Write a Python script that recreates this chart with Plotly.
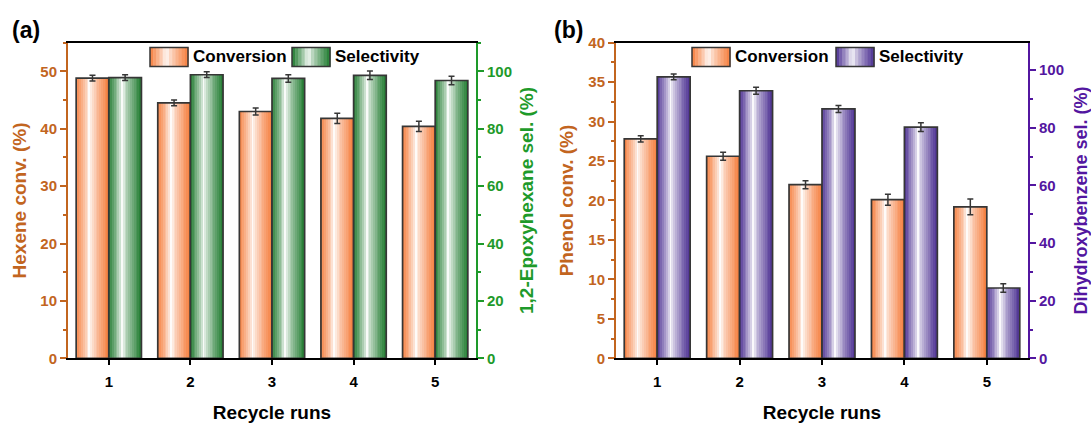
import plotly.graph_objects as go

# ---------------- data ----------------
runs = [1, 2, 3, 4, 5]
run_labels = ["1", "2", "3", "4", "5"]

hexene_conv = [48.8, 44.5, 43.0, 41.8, 40.4]
hexene_conv_err = [0.5, 0.5, 0.6, 0.9, 0.9]
epoxy_sel = [97.8, 98.8, 97.5, 98.6, 96.8]
epoxy_sel_err = [1.0, 1.0, 1.3, 1.5, 1.5]

phenol_conv = [27.8, 25.6, 22.0, 20.1, 19.2]
phenol_conv_err = [0.4, 0.5, 0.5, 0.7, 1.0]
dhb_sel = [97.6, 92.8, 86.5, 80.2, 24.4]
dhb_sel_err = [1.0, 1.2, 1.2, 1.5, 1.5]

# ---------------- styles ----------------
FONT = "Liberation Sans, Arial, sans-serif"
ORANGE_AX = "#C2651F"
GREEN_AX = "#1E9A2A"
PURPLE_AX = "#5316A0"
ORANGE_BAR = (246, 128, 64)
GREEN_BAR = (35, 125, 50)
PURPLE_BAR = (78, 50, 148)
OUTLINE = "#363636"
N_STRIP = 18
BAR_W = 0.4
WHITE_POS = 0.42


def grad_color(rgb, t):
    # mirror gradient: colour at edges, white near WHITE_POS
    if t < WHITE_POS:
        a = (WHITE_POS - t) / WHITE_POS
    else:
        a = (t - WHITE_POS) / (1 - WHITE_POS)
    a = min(1.0, a ** 0.75)
    r = int(255 + (rgb[0] - 255) * a)
    g = int(255 + (rgb[1] - 255) * a)
    b = int(255 + (rgb[2] - 255) * a)
    return f"rgb({r},{g},{b})"


fig = go.Figure()


def add_series(xa, ya, vals, errs, rgb, base_offset):
    sw = BAR_W / N_STRIP
    for i in range(N_STRIP):
        t = (i + 0.5) / N_STRIP
        fig.add_trace(go.Bar(
            x=runs, y=vals, xaxis=xa, yaxis=ya,
            width=sw * 1.08, offset=base_offset + i * sw,
            marker=dict(color=grad_color(rgb, t), line=dict(width=0)),
            showlegend=False, hoverinfo="skip"))
    fig.add_trace(go.Bar(
        x=runs, y=vals, xaxis=xa, yaxis=ya,
        width=BAR_W, offset=base_offset,
        marker=dict(color="rgba(0,0,0,0)", line=dict(color=OUTLINE, width=1.7)),
        error_y=dict(type="data", array=errs, color=OUTLINE, thickness=1.5, width=3),
        showlegend=False))


add_series("x", "y", hexene_conv, hexene_conv_err, ORANGE_BAR, -0.4)
add_series("x", "y2", epoxy_sel, epoxy_sel_err, GREEN_BAR, 0.0)
add_series("x2", "y3", phenol_conv, phenol_conv_err, ORANGE_BAR, -0.4)
add_series("x2", "y4", dhb_sel, dhb_sel_err, PURPLE_BAR, 0.0)

W, H = 1091, 423
dom_a = [68 / W, 476 / W]
dom_b = [616 / W, 1028 / W]
dom_y = [(H - 364) / H, (H - 35) / H]

tickfont = lambda c: dict(family=FONT, size=15, color=c, weight="bold")
titlefont = lambda c: dict(family=FONT, size=19, color=c, weight="bold")


def xaxis_cfg(domain, anchor):
    return dict(domain=domain, anchor=anchor, range=[0.5, 5.5],
                tickvals=runs, ticktext=run_labels,
                showline=True, linecolor="black", linewidth=2, mirror=True,
                ticks="outside", ticklen=5, tickwidth=2, tickcolor="black",
                ticklabelstandoff=4,
                tickfont=tickfont("black"), showgrid=False, zeroline=False,
                title=dict(text="Recycle runs", font=titlefont("black"), standoff=16))


def yaxis_cfg(color, rng, dtick, title, side, anchor, standoff, overlaying=None):
    d = dict(domain=dom_y, anchor=anchor, range=rng, dtick=dtick, side=side,
             showline=True, linecolor=color, linewidth=2,
             ticks="outside", ticklen=6, tickwidth=2, tickcolor=color,
             minor=dict(ticks="outside", ticklen=3, tickwidth=2, tickcolor=color, dtick=dtick / 2),
             tickfont=tickfont(color), showgrid=False, zeroline=False)
    if title:
        d["title"] = dict(text=title, font=titlefont(color), standoff=standoff)
    if overlaying:
        d["overlaying"] = overlaying
    return d


fig.update_layout(
    width=W, height=H, margin=dict(l=0, r=0, t=0, b=0),
    paper_bgcolor="white", plot_bgcolor="white",
    barmode="overlay", showlegend=False,
    xaxis=xaxis_cfg(dom_a, "y"),
    yaxis=yaxis_cfg(ORANGE_AX, [0, 55], 10, "Hexene conv. (%)", "left", "x", 9),
    yaxis2=yaxis_cfg(GREEN_AX, [0, 110], 20, "1,2-Epoxyhexane sel. (%)", "right", "x", 9, "y"),
    xaxis2=xaxis_cfg(dom_b, "y3"),
    yaxis3=yaxis_cfg(ORANGE_AX, [0, 40], 5, "Phenol conv. (%)", "left", "x2", 10),
    yaxis4=yaxis_cfg(PURPLE_AX, [0, 109.5], 20, None, "right", "x2", 3, "y3"),
)

# right title of panel (b) placed as rotated text to keep it inside the page
fig.add_annotation(text="Dihydroxybenzene sel. (%)", textangle=-90,
                   x=1081 / W, y=(dom_y[0] + dom_y[1]) / 2, xref="paper", yref="paper",
                   showarrow=False, xanchor="center", yanchor="middle",
                   font=dict(family=FONT, size=18, color=PURPLE_AX, weight="bold"))

# panel labels
fig.add_annotation(text="(a)", x=10 / W, y=(H - 22) / H, xref="paper", yref="paper",
                   showarrow=False, xanchor="left", yanchor="middle",
                   font=dict(family=FONT, size=23, color="black", weight="bold"))
fig.add_annotation(text="(b)", x=552 / W, y=(H - 22) / H, xref="paper", yref="paper",
                   showarrow=False, xanchor="left", yanchor="middle",
                   font=dict(family=FONT, size=23, color="black", weight="bold"))


# custom legends with gradient swatches
def legend_item(x0, label, rgb):
    y0, y1 = (H - 60) / H, (H - 40) / H
    sw_w = 38
    n = 12
    for i in range(n):
        t = (i + 0.5) / n
        fig.add_shape(type="rect", xref="paper", yref="paper",
                      x0=(x0 + i * sw_w / n) / W, x1=(x0 + (i + 1) * sw_w / n + 0.5) / W,
                      y0=y0, y1=y1, fillcolor=grad_color(rgb, t), line=dict(width=0))
    fig.add_shape(type="rect", xref="paper", yref="paper",
                  x0=x0 / W, x1=(x0 + sw_w) / W, y0=y0, y1=y1,
                  fillcolor="rgba(0,0,0,0)", line=dict(color=OUTLINE, width=1.5))
    fig.add_annotation(text=label, x=(x0 + sw_w + 3) / W, y=(y0 + y1) / 2,
                       xref="paper", yref="paper", showarrow=False,
                       xanchor="left", yanchor="middle",
                       font=dict(family=FONT, size=17, color="black", weight="bold"))


legend_item(150, "Conversion", ORANGE_BAR)
legend_item(292, "Selectivity", GREEN_BAR)
legend_item(692, "Conversion", ORANGE_BAR)
legend_item(836, "Selectivity", PURPLE_BAR)

fig.write_html("out.html", config={"displayModeBar": False},
               post_script="document.body.style.margin='0';document.body.style.overflow='hidden';")
